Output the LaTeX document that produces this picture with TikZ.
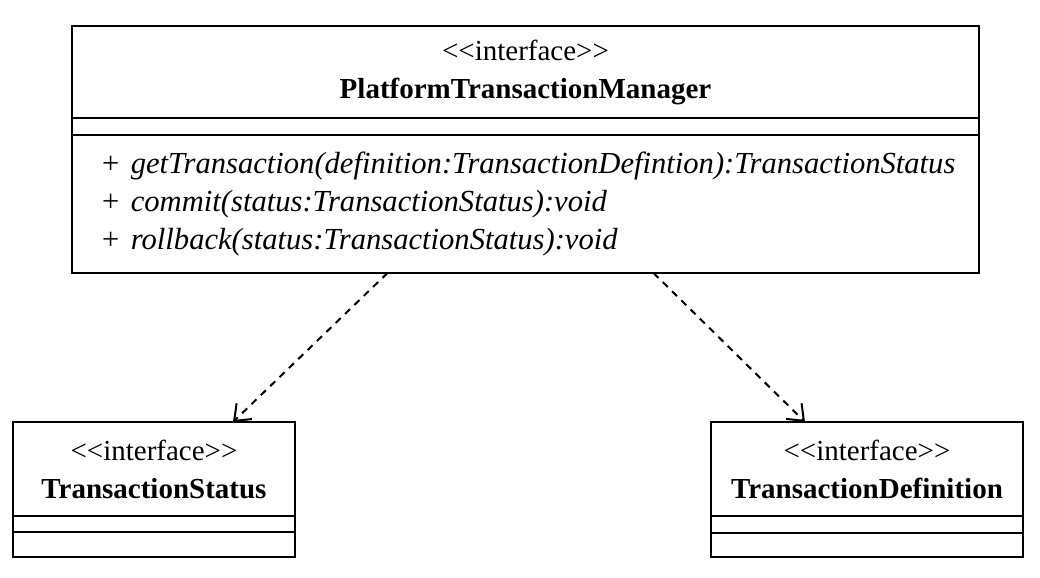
\documentclass[tikz,border=0pt]{standalone}
\usepackage{fontspec}
\setmainfont{Liberation Serif}
\usetikzlibrary{positioning,arrows.meta}

\begin{document}
\begin{tikzpicture}[
	x=0.5pt, y=-0.5pt,
	% common look of every compartment of a class box
	part style/.style={rectangle, draw, line width=1.2pt, inner sep=0pt, outer sep=0pt,
		font=\fontsize{14.5}{19}\selectfont},
	head style/.style={part style, align=center},
	dep style/.style={line width=1pt, dash pattern=on 3.5pt off 3pt,
		-{Straight Barb[length=7pt, width=11pt]}}
	]
	\useasboundingbox (0,0) rectangle (1040,578);

	% --- the manager interface ---
	\node[head style, minimum width=453.5pt, minimum height=46pt] (mgrhead) at (525.5,72)
		{<{}<interface>{}>\\\textbf{PlatformTransactionManager}};
	\node[part style, minimum width=453.5pt, minimum height=8.5pt, below=0pt of mgrhead] (mgrattr) {};
	\node[part style, minimum width=453.5pt, minimum height=69pt, below=0pt of mgrattr,
		align=left, text width=425.5pt, inner xsep=14pt,
		font=\fontsize{15.3}{18.8}\selectfont\itshape] (mgrops)
		{+ getTransaction(definition:TransactionDefintion):TransactionStatus\\
		 + commit(status:TransactionStatus):void\\
		 + rollback(status:TransactionStatus):void};

	% --- the two interfaces it depends on ---
	\node[head style, minimum width=141pt, minimum height=47pt] (statushead) at (154,469)
		{<{}<interface>{}>\\\textbf{TransactionStatus}};
	\node[part style, minimum width=141pt, minimum height=8pt, below=0pt of statushead] (statusattr) {};
	\node[part style, minimum width=141pt, minimum height=12.5pt, below=0pt of statusattr] (statusops) {};

	\node[head style, minimum width=156pt, minimum height=47pt] (defhead) at (867,469)
		{<{}<interface>{}>\\\textbf{TransactionDefinition}};
	\node[part style, minimum width=156pt, minimum height=8.5pt, below=0pt of defhead] (defattr) {};
	\node[part style, minimum width=156pt, minimum height=12pt, below=0pt of defattr] (defops) {};

	% --- dependencies ---
	\draw[dep style] ([xshift=-69pt]mgrops.south) -- ([xshift=39.5pt]statushead.north);
	\draw[dep style] ([xshift=64pt]mgrops.south) -- ([xshift=-31pt]defhead.north);
\end{tikzpicture}
\end{document}
